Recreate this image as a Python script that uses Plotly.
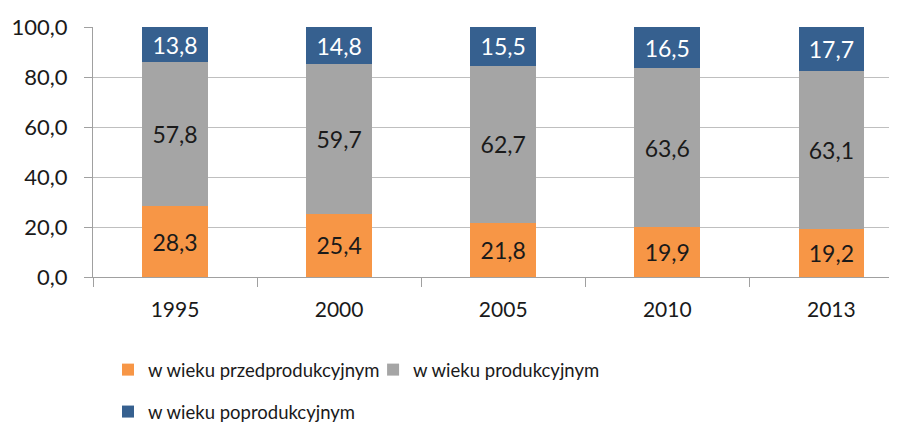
import plotly.graph_objects as go

years = ["1995", "2000", "2005", "2010", "2013"]
pre = [28.3, 25.4, 21.8, 19.9, 19.2]
prod = [57.8, 59.7, 62.7, 63.6, 63.1]
post = [13.8, 14.8, 15.5, 16.5, 17.7]
names = ["w wieku przedprodukcyjnym", "w wieku produkcyjnym", "w wieku poprodukcyjnym"]
y_ticks = [0, 20, 40, 60, 80, 100]
y_tick_labels = ["0,0", "20,0", "40,0", "60,0", "80,0", "100,0"]

colors = ["#F79646", "#A5A5A5", "#36608F"]
text_colors = ["#1a1a1a", "#1a1a1a", "#ffffff"]
FONT = "Lato"

def fmt(v):
    return f"{v:.1f}".replace(".", ",")

fig = go.Figure()
for i, (vals, nm) in enumerate(zip([pre, prod, post], names)):
    fig.add_trace(go.Bar(
        x=years, y=vals, name=nm,
        marker=dict(color=colors[i], line=dict(width=0)),
        text=[fmt(v) for v in vals],
        textposition="inside", insidetextanchor="middle", textangle=0,
        textfont=dict(family=FONT, size=23, color=text_colors[i]),
        legend=["legend", "legend2", "legend3"][i],
        showlegend=True,
        hoverinfo="skip",
    ))

leg_common = dict(font=dict(family=FONT, size=18.5, color="#1a1a1a"),
                  xref="container", yref="container", yanchor="middle",
                  xanchor="left", bgcolor="rgba(0,0,0,0)", borderwidth=0,
                  itemwidth=30, visible=True)

fig.update_layout(
    barmode="stack", bargap=0.6,
    width=897, height=428,
    showlegend=True,
    margin=dict(l=85, r=8, t=19, b=159, autoexpand=False),
    plot_bgcolor="white", paper_bgcolor="white",
    legend=dict(x=0.1115, y=0.154, **leg_common),
    legend2=dict(x=0.407, y=0.154, **leg_common),
    legend3=dict(x=0.1115, y=0.056, **leg_common),
    xaxis=dict(
        type="category", range=[-0.5, 4.4],
        showgrid=False, showline=True, linecolor="#A0A0A0", linewidth=1,
        ticks="outside", tickson="boundaries", ticklen=9, tickcolor="#A0A0A0",
        tickfont=dict(family=FONT, size=21, color="#1a1a1a"),
        ticklabelstandoff=14, tickangle=0,
    ),
    yaxis=dict(
        range=[0, 100], tickvals=y_ticks, ticktext=y_tick_labels,
        showgrid=True, gridcolor="#BFBFBF", gridwidth=1,
        showline=True, linecolor="#A0A0A0", linewidth=1,
        ticks="outside", ticklen=8, tickcolor="#A0A0A0",
        tickfont=dict(family=FONT, size=22, color="#1a1a1a"),
        ticklabelstandoff=12,
        zeroline=False,
    ),
)

fig.write_html("out.html")
